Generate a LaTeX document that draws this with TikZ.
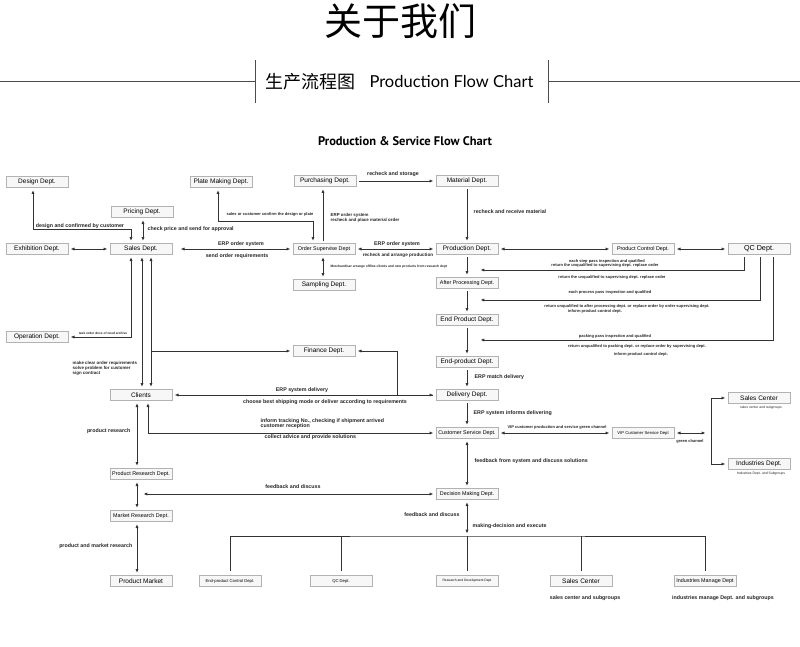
\documentclass[tikz,border=0pt]{standalone}
\usepackage{fontspec}
\setmainfont{Liberation Sans}
\newfontfamily\cjk{Noto Sans CJK SC}
\newfontfamily\headfont{Lato}
\newfontfamily\titlefont{PT Sans}
\usetikzlibrary{arrows.meta, positioning}

\begin{document}
\begin{tikzpicture}[
    x=1pt, y=-1pt, % pixel-like units, y grows downwards
    >={Latex[length=3.8pt,width=3.2pt]}, % Set default arrow tip style
    dept/.style={draw=gray!60, fill=gray!6, minimum width=62pt, minimum height=11pt, inner sep=0.5pt, font=\fontsize{6.5}{7}\selectfont}, % department box
    deptsm/.style={dept, font=\fontsize{5.4}{6}\selectfont}, % box with smaller text
    deptxs/.style={dept, font=\fontsize{4.2}{5}\selectfont}, % box with tiny text
    deptlg/.style={dept, font=\fontsize{7.2}{8}\selectfont}, % box with larger text
    conn/.style={black!80, line width=0.75pt, shorten >=2.5pt, shorten <=2.5pt}, % connector
    tree/.style={black!80, line width=0.75pt}, % plain line of the bottom tree
    lbl/.style={font=\bfseries\fontsize{5.3}{6}\selectfont, inner sep=0.5pt, text=black!85}, % connector label
    tinylbl/.style={font=\bfseries\fontsize{4}{4.6}\selectfont, inner sep=0.3pt, text=black!85} % very small label
]

    % Canvas
    \useasboundingbox (0,0) rectangle (800,647);
    \fill[white] (0,0) rectangle (800,647);

    % Header
    \node (about) at (400,21) {\cjk\fontsize{38}{40}\selectfont 关于我们};
    \draw[black!70, line width=0.6pt] (0,81) -- (255,81) (548,81) -- (800,81);
    \draw[black!70, line width=0.6pt] (255,60) -- (255,103) (548,60) -- (548,103);
    \node[anchor=west] (subcn) at (262,82) {\cjk\fontsize{18}{20}\selectfont 生产流程图};
    \node[anchor=west] (suben) at (366,81) {\headfont\fontsize{16.5}{18}\selectfont Production Flow Chart};
    \node (charttitle) at (405,141) {\titlefont\bfseries\fontsize{12.5}{14}\selectfont Production \& Service Flow Chart};

    % Departments
    \node[dept] (design) at (37,182) {Design Dept.};
    \node[dept] (plate) at (221,182) {Plate Making Dept.};
    \node[dept] (purchasing) at (325,181) {Purchasing Dept.};
    \node[dept] (material) at (467,181) {Material Dept.};
    \node[dept] (pricing) at (142,212) {Pricing Dept.};
    \node[dept] (exhibition) at (37,249) {Exhibition Dept.};
    \node[dept] (sales) at (141,249) {Sales Dept.};
    \node[deptsm] (ordersup) at (324,249) {Order Supervise Dept};
    \node[dept] (production) at (467,249) {Production Dept.};
    \node[deptsm] (prodcontrol) at (643,249) {Product Control Dept.};
    \node[deptlg] (qc) at (759,249) {QC Dept.};
    \node[dept] (sampling) at (324,285) {Sampling Dept.};
    \node[deptsm] (afterproc) at (467,283) {After Processing Dept.};
    \node[dept] (endproduct) at (467,320) {End Product Dept.};
    \node[dept] (operation) at (37,337) {Operation Dept.};
    \node[dept] (finance) at (324,351) {Finance Dept.};
    \node[dept] (endprodpk) at (467,362) {End-product Dept.};
    \node[dept] (clients) at (141,395) {Clients};
    \node[dept] (delivery) at (467,395) {Delivery Dept.};
    \node[dept] (salescenter) at (759,398) {Sales Center};
    \node[deptsm] (custservice) at (467,433) {Customer Service Dept.};
    \node[deptxs] (vipservice) at (643,433) {VIP Customer Service Dept};
    \node[dept] (industries) at (759,464) {Industries Dept.};
    \node[deptsm] (prodresearch) at (141,474) {Product Research Dept.};
    \node[deptsm] (decision) at (467,494) {Decision Making Dept.};
    \node[deptsm] (mktresearch) at (141,516) {Market Research Dept.};
    \node[dept] (market) at (141,581) {Product Market};
    \node[deptxs] (epcontrol) at (230,581) {End-product Control Dept.};
    \node[deptxs] (qcbottom) at (341,581) {QC Dept.};
    \node[dept, font=\fontsize{3.3}{4}\selectfont] (rnd) at (467,581) {Research and Development Dept};
    \node[dept] (salesbottom) at (581,581) {Sales Center};
    \node[deptsm] (indmanage) at (705,581) {Industries Manage Dept};

    % Notes under boxes
    \node[tinylbl, font=\fontsize{3.4}{4}\selectfont] at (761,408) {sales center and subgroups};
    \node[tinylbl, font=\fontsize{3.4}{4}\selectfont] at (761,474) {Industries Dept. and Subgroups};
    \node[lbl] at (585,598) {sales center and subgroups};
    \node[lbl] at (723,598) {industries manage Dept. and subgroups};

    % Sales Dept. and its neighbours
    \coordinate (designbend) at (33,229);
    \draw[conn, <->] (designbend |- design.south) -- (designbend) -| ([xshift=-10]sales.north);
    \node[lbl] at (80,226) {design and confirmed by customer};
    \draw[conn, <->] ([xshift=1]pricing.south) -- ([xshift=2]sales.north);
    \node[lbl, anchor=west] at (147,229) {check price and send for approval};
    \draw[conn, <->] (exhibition.east) -- (sales.west);
    \draw[conn, <->] ([xshift=6]sales.east) -- (ordersup.west);
    \node[lbl] at (241,244) {ERP order system};
    \node[lbl] at (237,256) {send order requirements};

    % Order Supervise Dept.
    \coordinate (platebend) at (218,221);
    \draw[conn, <->] (platebend |- plate.south) -- (platebend) -| ([xshift=-11]ordersup.north);
    \node[tinylbl] at (270,214) {sales or customer confirm the design or plate};
    \draw[conn, ->] ([xshift=-1]ordersup.north) -- ([xshift=-2]purchasing.south);
    \node[lbl, anchor=west, align=left, font=\bfseries\fontsize{4.4}{5.5}\selectfont] at (330,218) {ERP order system\\recheck and place material order};
    \draw[conn, <->] ([xshift=-1]ordersup.south) -- ([xshift=-1]sampling.north);
    \node[tinylbl, anchor=west, font=\bfseries\fontsize{3.3}{4}\selectfont] at (330,267) {Merchandiser arrange offline clients and new products from research dept};
    \draw[conn, <->] (ordersup.east) -- (production.west);
    \node[lbl] at (397,244) {ERP order system};
    \node[lbl, font=\bfseries\fontsize{4.6}{5}\selectfont] at (398,255) {recheck and arrange production};

    % Purchasing and material
    \draw[conn, ->] (purchasing.east) -- (material.west);
    \node[lbl] at (393,174) {recheck and storage};
    \draw[conn, ->] (material.south) -- (production.north);
    \node[lbl, anchor=west] at (473,212) {recheck and receive material};

    % Production line
    \draw[conn, <->] (production.east) -- (prodcontrol.west);
    \draw[conn, <->] (prodcontrol.east) -- (qc.west);
    \draw[conn, ->] (production.south) -- (afterproc.north);
    \draw[conn, ->] (afterproc.south) -- (endproduct.north);
    \draw[conn, ->] (endproduct.south) -- (endprodpk.north);
    \draw[conn, ->] (endprodpk.south) -- (delivery.north);
    \node[lbl, anchor=west] at (474,377) {ERP match delivery};
    \draw[conn, ->] (delivery.south) -- (custservice.north);
    \node[lbl, anchor=west] at (473,413) {ERP system informs delivering};
    \draw[conn, <->] (custservice.south) -- (decision.north);
    \node[lbl, anchor=west] at (474,461) {feedback from system and discuss solutions};

    % QC returns
    \coordinate (qcret1) at (478,270);
    \coordinate (qcret2) at (478,300);
    \coordinate (qcret3) at (478,340);
    \draw[conn, ->] ([xshift=-15]qc.south) |- (qcret1);
    \draw[conn, ->] ([xshift=1]qc.south) |- (qcret2);
    \draw[conn, ->] ([xshift=14]qc.south) |- (qcret3);
    \node[tinylbl] at (607,261) {each step pass inspection and qualified};
    \node[tinylbl] at (605,265.5) {return the unqualified to supervising dept. replace order};
    \node[tinylbl] at (612,277) {return the unqualified to supervising dept. replace order};
    \node[tinylbl] at (610,292) {each process pass inspection and qualified};
    \node[tinylbl] at (627,306) {return unqualified to after processing dept. or replace order by order supervising dept.};
    \node[tinylbl] at (595,311) {inform product control dept.};
    \node[tinylbl] at (615,336) {packing pass inspection and qualified};
    \node[tinylbl] at (637,346) {return unqualified to packing dept. or replace order by supervising dept.};
    \node[tinylbl] at (641,354) {inform product control dept.};

    % Sales Dept. down to clients
    \draw[conn, <->] ([xshift=-10]sales.south) |- (operation.east);
    \node[tinylbl, font=\bfseries\fontsize{3.2}{4}\selectfont] at (103,333) {task order docs of need archive};
    \draw[conn, <->] ([xshift=1]sales.south) -- ([xshift=1]clients.north);
    \draw[conn, <->] ([xshift=10]sales.south) -- ([xshift=10]clients.north);
    \draw[conn, shorten <=0pt, ->] ([xshift=10]sales.south |- finance.west) -- (finance.west);
    \node[lbl, anchor=west, align=left, font=\bfseries\fontsize{4.4}{5}\selectfont] at (72,368) {make clear order requirements\\solve problem for customer\\sign contract};

    % Delivery and finance
    \coordinate (finbend) at (397,351);
    \draw[conn, <->] (finance.east) -- (finbend) |- (delivery.west);
    \draw[conn, ->] (delivery.west) -- (clients.east);
    \node[lbl] at (302,390) {ERP system delivery};
    \node[lbl] at (325,402) {choose best shipping mode or deliver according to requirements};

    % Clients and customer service
    \draw[conn, <->] ([xshift=7]clients.south) |- (custservice.west);
    \node[lbl, anchor=west, align=left, font=\bfseries\fontsize{5.3}{5}\selectfont] at (260,423.5) {inform tracking No., checking if shipment arrived\\customer reception};
    \node[lbl, anchor=west] at (264,437) {collect advice and provide solutions};
    \draw[conn, <->] ([xshift=-4]clients.south) -- ([xshift=-4]prodresearch.north);
    \node[lbl, anchor=east] at (131,431) {product research};

    % Research
    \draw[conn, <->] ([xshift=-4]prodresearch.south) -- ([xshift=-4]mktresearch.north);
    \draw[conn, <->] ([xshift=-4]mktresearch.south) -- ([xshift=-4]market.north);
    \node[lbl, anchor=east] at (133,546) {product and market research};
    \coordinate (mrjoin) at (141,494);
    \draw[conn, <->] (mrjoin) -- (decision.west);
    \node[lbl] at (293,487) {feedback and discuss};

    % VIP service
    \draw[conn, <->] (custservice.east) -- (vipservice.west);
    \node[tinylbl] at (557,427) {VIP customer production and service green channel};
    \coordinate (vipbranch) at (711,433);
    \draw[conn, <->] (vipservice.east) -- ([xshift=-3]vipbranch);
    \draw[conn, <->] (salescenter.west) -| (vipbranch) |- (industries.west);
    \node[tinylbl] at (690,441) {green channel};

    % Decision tree
    \coordinate (treetop) at (467,536);
    \draw[conn, <->] (decision.south) -- (treetop);
    \node[lbl] at (432,515) {feedback and discuss};
    \node[lbl, anchor=west] at (472,526) {making-decision and execute};
    \draw[tree] ([yshift=4]epcontrol.north) |- (treetop) -| ([yshift=4]indmanage.north);
    \foreach \n in {qcbottom, rnd, salesbottom}
        \draw[tree] ([yshift=4]\n.north) -- (\n.north |- treetop);

\end{tikzpicture}
\end{document}
